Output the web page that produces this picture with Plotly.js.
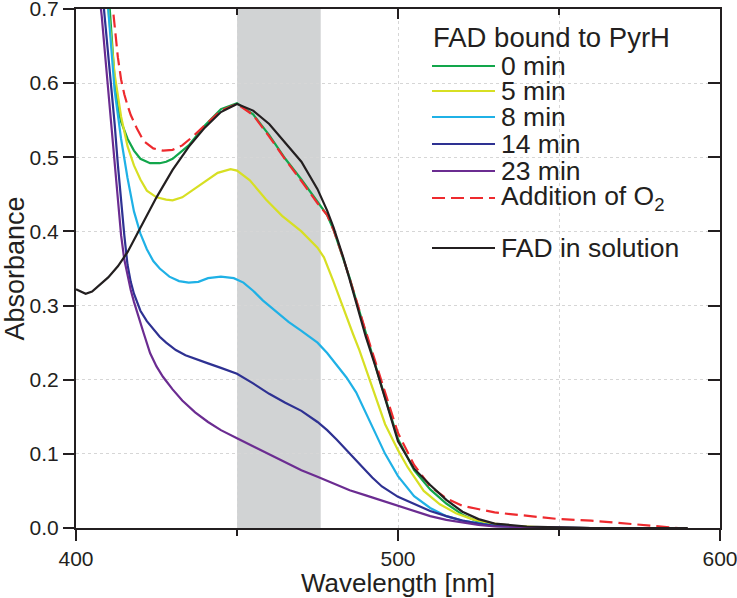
<!DOCTYPE html>
<html><head><meta charset="utf-8">
<script src="https://cdn.plot.ly/plotly-3.0.1.min.js"></script>
<style>html,body{margin:0;padding:0;background:#fff;} #chart{width:737px;height:598px;}</style>
</head><body><div id="chart"></div>
<script>
// ---- data ----
const wlBlack = [400,401,403,405,407,410,413,416,420,425,430,435,440,445,450,455,460,465,470,475,478,480,483,485,487,490,493,495,497,500,505,510,515,520,525,530,540,550,560,580,590];
const absBlack = [0.322,0.320,0.316,0.319,0.327,0.338,0.353,0.372,0.405,0.446,0.483,0.514,0.540,0.561,0.572,0.563,0.545,0.520,0.494,0.457,0.428,0.405,0.365,0.335,0.305,0.258,0.218,0.190,0.162,0.117,0.080,0.058,0.038,0.022,0.012,0.006,0.002,0.001,0,0,0];

const wl0 = [404,406,408,410,411,412,413,414,416,418,420,423,426,428,430,435,440,445,450,455,460,465,470,475,478,480,483,485,487,490,495,500,505,510,515,520,525,530,540,550,560];
const abs0 = [1.05,0.95,0.86,0.73,0.665,0.605,0.568,0.548,0.525,0.509,0.498,0.492,0.492,0.494,0.498,0.516,0.543,0.565,0.573,0.558,0.530,0.498,0.470,0.440,0.422,0.402,0.364,0.337,0.307,0.262,0.190,0.120,0.078,0.052,0.033,0.018,0.008,0.003,0.001,0,0];

const wl5 = [404,406,408,410,412,414,416,418,420,422,425,428,430,433,436,440,444,448,450,454,459,464,470,475,477,480,483,486,488,490,493,496,500,503,508,513,518,523,528,535,545,560];
const abs5 = [1.1,0.95,0.82,0.70,0.612,0.555,0.515,0.489,0.470,0.455,0.446,0.443,0.442,0.446,0.455,0.467,0.479,0.484,0.482,0.469,0.443,0.421,0.400,0.378,0.365,0.332,0.296,0.262,0.240,0.215,0.175,0.140,0.105,0.082,0.050,0.032,0.020,0.012,0.007,0.003,0.001,0];

const wl8 = [404,406,408,410,412,414,416,418,420,422,424,426,429,432,435,438,441,445,449,452,455,458,462,466,470,475,478,481,484,487,490,493,496,500,505,510,515,520,525,530,540,560];
const abs8 = [1.15,0.98,0.84,0.70,0.59,0.525,0.472,0.427,0.397,0.376,0.360,0.350,0.339,0.333,0.331,0.332,0.337,0.339,0.337,0.331,0.320,0.307,0.292,0.278,0.266,0.250,0.236,0.220,0.203,0.183,0.155,0.127,0.100,0.070,0.043,0.027,0.016,0.010,0.006,0.003,0.001,0];

const wl14 = [403,405,407,409,410,411,412,413,414,415,416,417,418,420,422,424,426,428,431,434,437,441,445,450,455,460,465,470,475,478,481,485,489,492,495,500,505,510,515,520,525,530,540,560];
const abs14 = [1.1,0.93,0.78,0.685,0.64,0.59,0.545,0.49,0.44,0.395,0.355,0.332,0.316,0.293,0.279,0.268,0.258,0.250,0.240,0.233,0.228,0.222,0.216,0.208,0.195,0.181,0.169,0.158,0.143,0.132,0.119,0.101,0.082,0.068,0.056,0.042,0.032,0.023,0.016,0.010,0.006,0.003,0.001,0];

const wl23 = [402,404,406,407,408,409,410,411,412,413,414,415,416,417,418,419,421,423,425,427,430,433,437,441,445,450,455,460,465,470,475,480,485,490,495,500,505,510,515,520,525,530,540,560];
const abs23 = [1.05,0.90,0.77,0.73,0.69,0.64,0.59,0.543,0.49,0.44,0.395,0.362,0.340,0.321,0.305,0.290,0.263,0.236,0.218,0.204,0.187,0.172,0.156,0.143,0.132,0.121,0.110,0.100,0.089,0.078,0.069,0.060,0.051,0.044,0.037,0.030,0.022,0.016,0.011,0.007,0.004,0.002,0.001,0];

const wlO2 = [405,407,409,410,411,412,413,414,415,416,417,419,421,424,427,430,433,436,440,445,450,455,460,465,470,475,478,480,483,485,487,490,495,500,505,510,515,520,530,540,550,560,570,580,587];
const absO2 = [1.05,0.92,0.80,0.75,0.72,0.68,0.635,0.605,0.585,0.570,0.557,0.538,0.522,0.512,0.509,0.510,0.516,0.527,0.543,0.563,0.572,0.557,0.528,0.497,0.468,0.438,0.422,0.402,0.364,0.337,0.308,0.265,0.198,0.128,0.085,0.056,0.040,0.030,0.021,0.016,0.012,0.010,0.006,0.002,0.0];

const seriesNames = ['0 min','5 min','8 min','14 min','23 min','Addition of O<sub>2</sub>','FAD in solution'];
const seriesX = [wl0, wl5, wl8, wl14, wl23, wlO2, wlBlack];
const seriesY = [abs0, abs5, abs8, abs14, abs23, absO2, absBlack];
const seriesColors = ['#12a64b','#d7df23','#1fb1e6','#2e3192','#6b2c91','#ee2a2e','#231f20'];
const seriesDash = ['solid','solid','solid','solid','solid','13px,6px','solid'];
const legendTitle = 'FAD bound to PyrH';
const xTicks = [400,500,600];
const yTicks = [0,0.1,0.2,0.3,0.4,0.5,0.6,0.7];
const bandRange = [450,476];

// ---- layout helpers ----
const W=737,H=598,L=76,R=17,T=9,B=70;
const pw=W-L-R, ph=H-T-B, yb=H-B;
const px2x = px => (px-L)/pw;
const py2y = py => (yb-py)/ph;
const FONT = 'Liberation Sans, Arial, Helvetica, sans-serif';
const INK = '#231f20';

const traces = seriesNames.map((n,i)=>({
  type:'scatter', mode:'lines', name:n, x:seriesX[i], y:seriesY[i],
  line:{color:seriesColors[i], width:2.2, dash:seriesDash[i]},
  showlegend:false, hoverinfo:'skip'
}));
traces.push({type:'scatter', x:[null], y:[null], xaxis:'x2', yaxis:'y2', showlegend:false, hoverinfo:'skip'});

const shapes = [
  {type:'rect', xref:'x', yref:'paper', x0:bandRange[0], x1:bandRange[1], y0:0, y1:1, fillcolor:'#d1d3d4', line:{width:0}, layer:'between'},
  {type:'rect', xref:'paper', yref:'paper', x0:px2x(418), x1:px2x(712), y0:py2y(214), y1:py2y(30), fillcolor:'#ffffff', line:{width:0}, layer:'between'},
  {type:'rect', xref:'paper', yref:'paper', x0:px2x(418), x1:px2x(712), y0:py2y(264), y1:py2y(236), fillcolor:'#ffffff', line:{width:0}, layer:'between'}
];
const annotations = [];
const rowY = [66,91,117,144,171,198,248];
annotations.push({xref:'paper', yref:'paper', x:px2x(431), y:py2y(38), xanchor:'left', yanchor:'middle', showarrow:false, text:legendTitle, font:{family:FONT, size:27.5, color:INK}});
seriesNames.forEach((n,i)=>{
  shapes.push({type:'line', xref:'paper', yref:'paper', x0:px2x(432), x1:px2x(495), y0:py2y(rowY[i]), y1:py2y(rowY[i]), line:{color:seriesColors[i], width:2.2, dash:seriesDash[i]}, layer:'above'});
  annotations.push({xref:'paper', yref:'paper', x:px2x(499), y:py2y(rowY[i]), xanchor:'left', yanchor:'middle', showarrow:false, text:n, font:{family:FONT, size:26.5, color:INK}});
});

const grid = '#d6d6d6';
const layout = {
  width:W, height:H, margin:{l:L, r:R, t:T, b:B},
  paper_bgcolor:'#fff', plot_bgcolor:'#fff',
  font:{family:FONT, color:INK},
  xaxis:{range:[400,600], tickvals:xTicks, ticks:'outside', ticklen:11, tickwidth:2, tickcolor:INK,
    ticklabeloverflow:'allow',
    showline:true, linecolor:INK, linewidth:2, zeroline:false,
    showgrid:true, gridcolor:grid, griddash:'dot', gridwidth:1,
    minor:{dtick:50, tick0:400, ticks:'outside', ticklen:6, tickwidth:2, tickcolor:INK, showgrid:true, gridcolor:grid, griddash:'dot', gridwidth:1},
    tickfont:{size:21, color:INK}, title:{text:'Wavelength [nm]', font:{size:26, color:INK}, standoff:0}},
  yaxis:{range:[0,0.7], tickvals:yTicks, tickformat:'.1f', ticks:'outside', ticklen:11, tickwidth:2, tickcolor:INK,
    ticklabeloverflow:'allow',
    showline:true, linecolor:INK, linewidth:2, zeroline:false,
    showgrid:true, gridcolor:grid, griddash:'dot', gridwidth:1,
    tickfont:{size:21, color:INK}, title:{text:'Absorbance', font:{size:27, color:INK}, standoff:4}},
  xaxis2:{range:[400,600], overlaying:'x', side:'top', anchor:'y2', tickvals:xTicks, ticks:'inside', ticklen:10, tickwidth:2, tickcolor:INK,
    showticklabels:false, showgrid:false, zeroline:false, showline:true, linecolor:INK, linewidth:2,
    minor:{dtick:50, tick0:400, ticks:'inside', ticklen:6, tickwidth:2, tickcolor:INK, showgrid:false}},
  yaxis2:{range:[0,0.7], overlaying:'y', side:'right', anchor:'x2', tickvals:yTicks, ticks:'inside', ticklen:12, tickwidth:2, tickcolor:INK,
    showticklabels:false, showgrid:false, zeroline:false, showline:true, linecolor:INK, linewidth:2},
  shapes:shapes, annotations:annotations, showlegend:false
};
Plotly.newPlot('chart', traces, layout, {staticPlot:true, displayModeBar:false});
</script>
</body></html>
